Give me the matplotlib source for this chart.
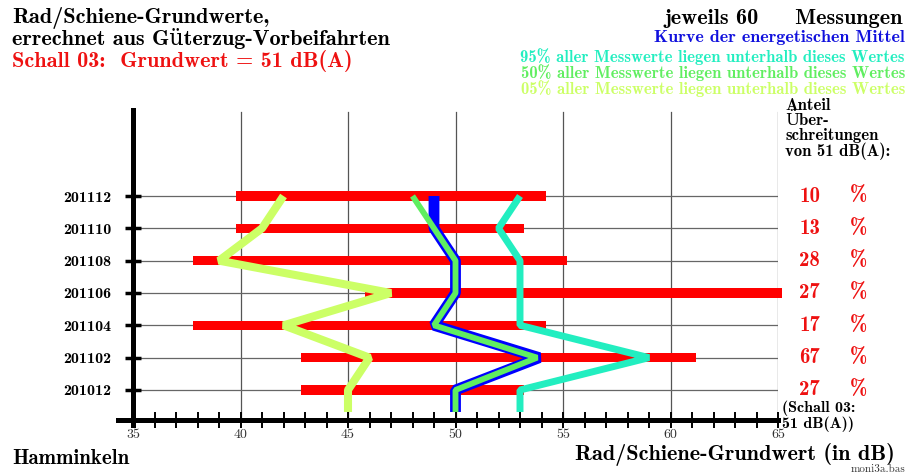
import matplotlib
matplotlib.use("Agg")
from matplotlib import pyplot as plt

# Messmonate (unten -> oben)
monate = ["201012", "201102", "201104", "201106", "201108", "201110", "201112"]
# rote Balken: min / max Grundwert
bar_min = [42.8, 42.8, 37.8, 45.8, 37.8, 39.8, 39.8]
bar_max = [53.2, 61.2, 54.2, 65.2, 55.2, 53.2, 54.2]
# Kurven
p05 = [45, 46, 42, 47, 39, 41, 42]
p50 = [50, 53.8, 49, 50, 50, 49, 48]
mittel = [50, 53.9, 49, 50, 50, 49, 49]
p95 = [53, 59, 53, 53, 53, 52, 53]
# Anteil Ueberschreitungen von 51 dB(A)
anteil = [27, 67, 17, 27, 28, 13, 10]

xticks = [35, 40, 45, 50, 55, 60, 65]

SERIF = ["cmb10", "DejaVu Serif"]
ROMAN = ["cmr10", "DejaVu Serif"]
RED = "#ee1111"
LIME = "#ccff66"
GREEN = "#60ee60"
CYAN = "#22eec0"
BLUE = "#0000ff"

fig = plt.figure(figsize=(9.09, 4.75), dpi=100)
ax = fig.add_axes([133/909, 1-420/475, 645/909, 310/475])
ax.set_xlim(35, 65)
y_bot, y_top = -0.928, 8.66
ax.set_ylim(y_bot, y_top)
for s in ax.spines.values():
    s.set_visible(False)

rows = list(range(len(monate)))
tail = -0.68  # Linienende unterhalb der letzten Zeile

# Gitter
for x in xticks[1:]:
    ax.plot([x, x], [y_bot, 8.6], color="#555555", lw=0.9, zorder=1)
for r in rows:
    ax.plot([35, 65], [r, r], color="#666666", lw=0.9, zorder=1)

# rote Balken
ax.barh(rows, [b - a for a, b in zip(bar_min, bar_max)], left=bar_min,
        height=0.28, color="#ff0000", zorder=2, clip_on=False)

def kurve(vals, color, lw, z):
    xs = [vals[0]] + vals
    ys = [tail] + rows
    ax.plot(xs, ys, color=color, lw=lw, zorder=z,
            solid_capstyle="butt", solid_joinstyle="bevel")

kurve(p05, LIME, 5.8, 3)
kurve(p95, CYAN, 5.0, 3)
kurve(mittel, BLUE, 7.8, 4)
kurve(p50, GREEN, 4.2, 5)

# Achsen
ax.plot([34.3, 65], [y_bot, y_bot], color="black", lw=3.6, clip_on=False, zorder=6)
ax.plot([35, 35], [y_bot - 0.15, y_top], color="black", lw=3.6, clip_on=False, zorder=6)

ax.set_xticks(range(35, 66), minor=True)
ax.set_xticks(xticks)
ax.set_xticklabels([str(x) for x in xticks], family=ROMAN, fontsize=10,
                   color="#333333")
ax.tick_params(axis="x", which="both", direction="inout", length=11, width=1.4,
               color="black", pad=1)
ax.set_yticks(rows)
ax.set_yticklabels(monate, family=SERIF, fontsize=11.5)
ax.tick_params(axis="y", direction="inout", length=11, width=2.5,
               color="black", pad=10)

# Prozentwerte rechts
for r, a in zip(rows, anteil):
    ax.text(65.98, r, str(a), family=SERIF, fontsize=15, color=RED,
            va="center", ha="left")
    ax.text(68.35, r, "%", family=SERIF, fontsize=15, color=RED,
            va="center", ha="left")

fig.text(785/909, 1-98/475, "Anteil\nÜber-\nschreitungen\nvon 51 dB(A):",
         family=SERIF, fontsize=12, va="top", ha="left", linespacing=0.95)
fig.text(782/909, 1-400/475, "(Schall 03:\n51 dB(A))",
         family=SERIF, fontsize=11.5, va="top", ha="left", linespacing=1.1)

# Titel links
fig.text(12/909, 1-7/475, "Rad/Schiene-Grundwerte,\nerrechnet aus Güterzug-Vorbeifahrten",
         family=SERIF, fontsize=16, va="top", ha="left", linespacing=0.92)
fig.text(12/909, 1-50/475, "Schall 03:  Grundwert = 51 dB(A)",
         family=SERIF, fontsize=16, color=RED, va="top", ha="left")

# Legende rechts
fig.text(903/909, 1-9/475, "jeweils 60     Messungen", family=SERIF,
         fontsize=16, va="top", ha="right")
fig.text(905/909, 1-30/475, "Kurve der energetischen Mittel", family=SERIF,
         fontsize=13, color="#1010dd", va="top", ha="right")
fig.text(905/909, 1-48/475, "95% aller Messwerte liegen unterhalb dieses Wertes",
         family=SERIF, fontsize=12, color=CYAN, va="top", ha="right")
fig.text(905/909, 1-64/475, "50% aller Messwerte liegen unterhalb dieses Wertes",
         family=SERIF, fontsize=12, color=GREEN, va="top", ha="right")
fig.text(905/909, 1-80/475, "05% aller Messwerte liegen unterhalb dieses Wertes",
         family=SERIF, fontsize=12, color=LIME, va="top", ha="right")

# unten
fig.text(12/909, 1-458/475, "Hamminkeln", family=SERIF, fontsize=15,
         va="center", ha="left")
fig.text(895/909, 1-454.5/475, "Rad/Schiene-Grundwert (in dB)", family=SERIF,
         fontsize=16, va="center", ha="right")
fig.text(905/909, 1-469.5/475, "moni3a.bas", family=ROMAN, fontsize=8,
         color="#333333", va="center", ha="right")

fig.savefig("out.png", dpi=100, facecolor="white")
